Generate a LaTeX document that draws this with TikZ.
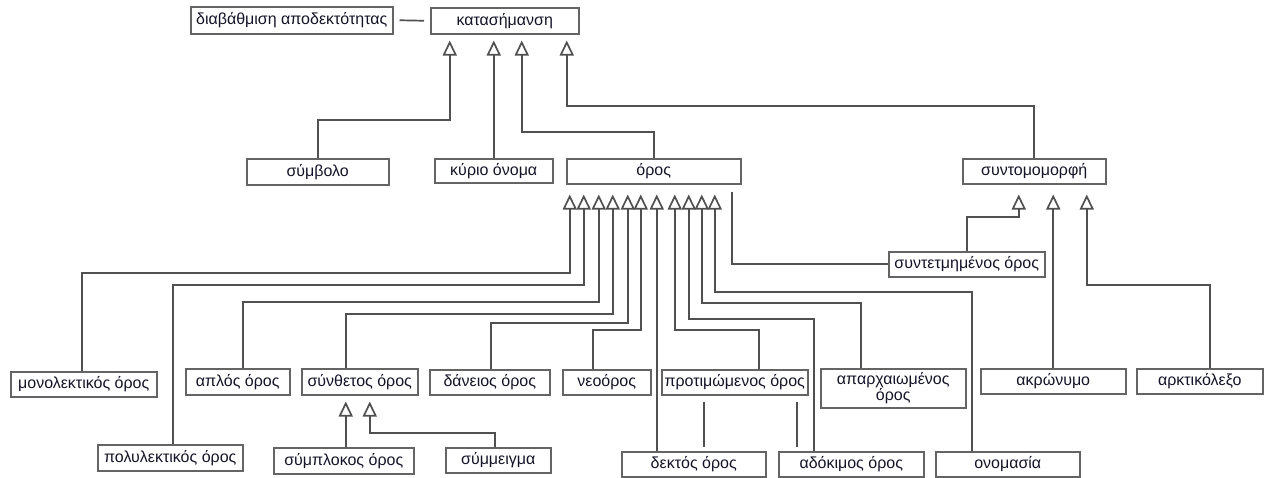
\documentclass[tikz,border=0pt]{standalone}
\usepackage{fontspec}
\setmainfont{Liberation Sans}
\usetikzlibrary{arrows.meta}
\definecolor{edge}{HTML}{505050}
\definecolor{frame}{HTML}{646464}
\definecolor{ink}{HTML}{141428}
\begin{document}
\begin{tikzpicture}[x=1pt,y=-1pt,
  box/.style={draw=frame, line width=1.5pt, inner sep=0pt, anchor=north west,
    font=\fontsize{16}{16}\selectfont, text=ink, align=center},
  wh/.style 2 args={minimum width=#1pt, minimum height=#2pt},
  gen/.style={draw=edge, line width=1.7pt, -{Triangle[open,length=15pt,width=14pt]}},
  plain/.style={draw=edge, line width=1.7pt}]
\useasboundingbox (0,0) rectangle (1265,477);

% top level
\node[box, wh={202}{27}] (diab)   at (190,6)   {διαβάθμιση αποδεκτότητας};
\node[box, wh={148}{26}] (katas)  at (430,7)   {κατασήμανση};

% second level
\node[box, wh={142}{26}] (symb)   at (246,158) {σύμβολο};
\node[box, wh={118}{24}] (kyrio)  at (434,158) {κύριο όνομα};
\node[box, wh={174}{25}] (oros)   at (566,158) {όρος};
\node[box, wh={143}{25}] (syntom) at (962,158) {συντομομορφή};
\node[box, wh={156}{25}] (syntet) at (888,251) {συντετμημένος όρος};

% kinds of terms
\node[box, wh={146}{25}] (monol)    at (10,371)  {μονολεκτικός όρος};
\node[box, wh={104}{26}] (aplos)    at (185,368) {απλός όρος};
\node[box, wh={116}{26}] (syntheto) at (301,368) {σύνθετος όρος};
\node[box, wh={120}{25}] (daneios)  at (429,369) {δάνειος όρος};
\node[box, wh={88}{25}]  (neooros)  at (562,369) {νεοόρος};
\node[box, wh={146}{25}] (protim)   at (661,369) {προτιμώμενος όρος};
\node[box, wh={145}{39}] (aparx)    at (820,368) {απαρχαιωμένος\\όρος};
\node[box, wh={145}{25}] (akron)    at (980,368) {ακρώνυμο};
\node[box, wh={126}{25}] (arktik)   at (1136,368) {αρκτικόλεξο};

% lowest row
\node[box, wh={145}{26}] (polyl)  at (97,444)  {πολυλεκτικός όρος};
\node[box, wh={140}{26}] (sympl)  at (273,447) {σύμπλοκος όρος};
\node[box, wh={105}{25}] (symm)   at (445,447) {σύμμειγμα};
\node[box, wh={144}{25}] (dektos) at (621,451) {δεκτός όρος};
\node[box, wh={145}{25}] (adok)   at (778,451) {αδόκιμος όρος};
\node[box, wh={144}{25}] (onom)   at (935,451) {ονομασία};

% plain association lines
\draw[plain] ([xshift=6pt]diab.east) -- ([xshift=-6pt]katas.west);
\draw[plain] ([xshift=78pt,yshift=-7pt]oros.south) |- (syntet.west);
\draw[plain] ([xshift=-31pt,yshift=-6pt]protim.south) -- ([xshift=10pt,yshift=4pt]dektos.north);
\draw[plain] ([xshift=62pt,yshift=-6pt]protim.south) -- ([xshift=-54.5pt,yshift=4pt]adok.north);

% generalisations into κατασήμανση
\draw[gen, shorten >=6pt] (symb.north) -- ++(0,-38) -| ([xshift=-55pt]katas.south);
\draw[gen, shorten >=6pt] (kyrio.north) -- (kyrio.north |- katas.south);
\draw[gen, shorten >=6pt] (oros.north) -- ++(0,-26) -| ([xshift=17pt]katas.south);
\draw[gen, shorten >=6pt] (syntom.north) -- ++(0,-52) -| ([xshift=62pt]katas.south);

% generalisations into συντομομορφή
\draw[gen, shorten >=10pt] (syntet.north) -- ++(0,-34) -| ([xshift=-15.5pt]syntom.south);
\draw[gen, shorten >=10pt] (akron.north) -- (akron.north |- syntom.south);
\draw[gen, shorten >=10pt] ([xshift=10pt]arktik.north) -- ++(0,-83) -| ([xshift=52.5pt]syntom.south);

% generalisations into όρος
\draw[gen, shorten >=10pt] ([xshift=-2pt]monol.north) -- ++(0,-98) -| ([xshift=-84pt]oros.south);
\draw[gen, shorten >=10pt] ([xshift=2.5pt]polyl.north) -- ++(0,-159) -| ([xshift=-70pt]oros.south);
\draw[gen, shorten >=10pt] ([xshift=5pt]aplos.north) -- ++(0,-66) -| ([xshift=-55pt]oros.south);
\draw[gen, shorten >=10pt] ([xshift=-14pt]syntheto.north) -- ++(0,-54) -| ([xshift=-41pt]oros.south);
\draw[gen, shorten >=10pt] ([xshift=1pt]daneios.north) -- ++(0,-46) -| ([xshift=-26pt]oros.south);
\draw[gen, shorten >=10pt] ([xshift=-14pt]neooros.north) -- ++(0,-39) -| ([xshift=-13pt]oros.south);
\draw[gen, shorten >=10pt] ([xshift=-37pt]dektos.north) -- ([xshift=3pt]oros.south);
\draw[gen, shorten >=10pt] ([xshift=24pt]protim.north) -- ++(0,-39) -| ([xshift=21pt]oros.south);
\draw[gen, shorten >=10pt] ([xshift=-37.5pt]adok.north) -- ++(0,-132) -| ([xshift=35pt]oros.south);
\draw[gen, shorten >=10pt] ([xshift=-32.5pt]aparx.north) -- ++(0,-65) -| ([xshift=48pt]oros.south);
\draw[gen, shorten >=10pt] ([xshift=-36pt]onom.north) -- ++(0,-159) -| ([xshift=61pt]oros.south);

% generalisations into σύνθετος όρος
\draw[gen, shorten >=6pt] ([xshift=2pt]sympl.north) -- ([xshift=-14pt]syntheto.south);
\draw[gen, shorten >=6pt] ([xshift=-3.5pt]symm.north) -- ++(0,-14) -| ([xshift=10pt]syntheto.south);
\end{tikzpicture}
\end{document}
